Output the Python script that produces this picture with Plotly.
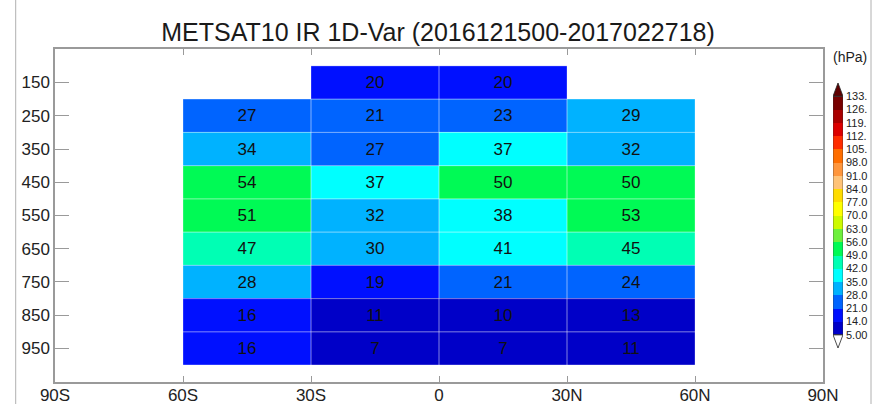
import plotly.graph_objects as go

# ---------------- data ----------------
lat_centers = [-45, -15, 15, 45]
lat_edges = [-60, -30, 0, 30, 60]
pressure_levels = [150, 250, 350, 450, 550, 650, 750, 850, 950]
pressure_edges = [100, 200, 300, 400, 500, 600, 700, 800, 900, 1000]
values = [
    [None, 20, 20, None],
    [27, 21, 23, 29],
    [34, 27, 37, 32],
    [54, 37, 50, 50],
    [51, 32, 38, 53],
    [47, 30, 41, 45],
    [28, 19, 21, 24],
    [16, 11, 10, 13],
    [16, 7, 7, 11],
]
x_tickvals = [-90, -60, -30, 0, 30, 60, 90]
x_ticktext = ["90S", "60S", "30S", "0", "30N", "60N", "90N"]
y_tickvals = [50, 150, 250, 350, 450, 550, 650, 750, 850, 950, 1050]
y_ticktext = ["", "150", "250", "350", "450", "550", "650", "750", "850", "950", ""]

levels = [5, 14, 21, 28, 35, 42, 49, 56, 63, 70, 77, 84, 91, 98, 105, 112, 119, 126, 133]
level_labels = ["5.00", "14.0", "21.0", "28.0", "35.0", "42.0", "49.0", "56.0", "63.0",
                "70.0", "77.0", "84.0", "91.0", "98.0", "105.", "112.", "119.", "126.", "133."]
bin_colors = [
    "rgb(0,0,200)", "rgb(0,16,255)", "rgb(0,100,255)", "rgb(0,178,255)",
    "rgb(0,255,255)", "rgb(0,255,180)", "rgb(0,250,85)", "rgb(110,240,60)",
    "rgb(205,250,0)", "rgb(255,255,0)", "rgb(255,220,0)", "rgb(255,195,120)",
    "rgb(255,150,60)", "rgb(255,110,0)", "rgb(255,45,0)", "rgb(220,0,0)",
    "rgb(170,0,0)", "rgb(120,0,0)",
]
over_color = "rgb(95,0,0)"
under_color = "white"

title_text = "METSAT10 IR 1D-Var (2016121500-2017022718)"
unit_text = "(hPa)"

FONT = "Liberation Sans, Arial, Helvetica, sans-serif"
W, H = 876, 404

# discrete colorscale
zmin, zmax = levels[0], levels[-1]
colorscale = []
for i, c in enumerate(bin_colors):
    a = (levels[i] - zmin) / (zmax - zmin)
    b = (levels[i + 1] - zmin) / (zmax - zmin)
    colorscale.append([a, c])
    colorscale.append([b, c])

text = [["" if v is None else str(v) for v in row] for row in values]

fig = go.Figure()

fig.add_trace(go.Heatmap(
    x=lat_centers, y=pressure_levels, z=values,
    colorscale=colorscale, zmin=zmin, zmax=zmax, showscale=False,
    text=text, texttemplate="%{text}",
    textfont=dict(family=FONT, size=17, color="#111"),
    hoverongaps=False,
))

# faint cell borders
bx, by = [], []
for j, row in enumerate(values):
    for i, v in enumerate(row):
        if v is None:
            continue
        x0, x1 = lat_edges[i], lat_edges[i + 1]
        y0, y1 = pressure_edges[j], pressure_edges[j + 1]
        bx += [x0, x1, x1, x0, x0, None]
        by += [y0, y0, y1, y1, y0, None]
fig.add_trace(go.Scatter(x=bx, y=by, mode="lines", line=dict(color="rgba(255,255,255,0.28)", width=1),
                         hoverinfo="skip", showlegend=False))

# colorbar as its own heatmap
mids = [(levels[i] + levels[i + 1]) / 2 for i in range(len(bin_colors))]
fig.add_trace(go.Heatmap(
    x=[0.5], y=[i + 0.5 for i in range(len(mids))], z=[[m] for m in mids],
    colorscale=colorscale, zmin=zmin, zmax=zmax, showscale=False,
    xaxis="x2", yaxis="y2", hoverinfo="skip",
))
nb = len(bin_colors)
fig.add_trace(go.Scatter(x=[0, 1, 0.5, 0], y=[nb, nb, nb + 1, nb], mode="lines", fill="toself",
                         fillcolor=over_color, line=dict(color="#222", width=0.8),
                         xaxis="x2", yaxis="y2", hoverinfo="skip", showlegend=False))
fig.add_trace(go.Scatter(x=[0, 1, 0.5, 0], y=[0, 0, -1, 0], mode="lines", fill="toself",
                         fillcolor=under_color, line=dict(color="#222", width=0.8),
                         xaxis="x2", yaxis="y2", hoverinfo="skip", showlegend=False))
fig.add_trace(go.Scatter(x=[0, 1, 1, 0, 0], y=[0, 0, nb, nb, 0], mode="lines",
                         line=dict(color="#333", width=0.6),
                         xaxis="x2", yaxis="y2", hoverinfo="skip", showlegend=False))

axis_gray = "#9a9a9a"
fig.update_layout(
    width=W, height=H, margin=dict(l=0, r=0, t=0, b=0, pad=0, autoexpand=False),
    paper_bgcolor="white", plot_bgcolor="white", showlegend=False,
    font=dict(family=FONT, color="#222"),
    title=dict(text=title_text, x=0.5, xanchor="center", y=1 - 32 / H, yanchor="middle",
               automargin=False, font=dict(family=FONT, size=25, color="#1a1a1a")),
    xaxis=dict(domain=[55 / W, 823 / W], range=[-90, 90], tickvals=x_tickvals, ticktext=x_ticktext,
               ticks="inside", ticklen=6, tickcolor=axis_gray, tickwidth=1,
               showline=True, linecolor=axis_gray, linewidth=1.5, mirror="ticks",
               showgrid=False, zeroline=False, tickfont=dict(size=17, color="#222"),
               ticklabelstandoff=-3, automargin=False, fixedrange=True),
    yaxis=dict(domain=[1 - 381.7 / H, 1 - 49.3 / H], range=[1050, 50], tickvals=y_tickvals,
               ticktext=y_ticktext, ticks="inside", ticklen=14, tickcolor=axis_gray, tickwidth=1,
               showline=True, linecolor=axis_gray, linewidth=1.5, mirror="ticks",
               showgrid=False, zeroline=False, tickfont=dict(size=17, color="#222"),
               ticklabelstandoff=0, automargin=False, fixedrange=True),
    xaxis2=dict(domain=[833 / W, 843 / W], range=[0, 1], visible=False, fixedrange=True,
                anchor="y2", automargin=False),
    yaxis2=dict(domain=[1 - 348 / H, 1 - 83 / H], range=[-1, nb + 1], anchor="x2", side="right",
                tickvals=list(range(len(levels))), ticktext=level_labels, ticks="",
                showline=False, showgrid=False, zeroline=False,
                tickfont=dict(size=11, color="#222"), ticklabelstandoff=2,
                automargin=False, fixedrange=True),
    annotations=[dict(text=unit_text, x=850 / W, y=1 - 57 / H, xref="paper", yref="paper",
                      xanchor="center", yanchor="middle", showarrow=False,
                      font=dict(family=FONT, size=14, color="#222"))],
    shapes=[
        dict(type="line", xref="paper", yref="paper", x0=15.7 / W, x1=15.7 / W, y0=0, y1=1,
             line=dict(color="#b0b0b0", width=1)),
        dict(type="line", xref="paper", yref="paper", x0=871 / W, x1=871 / W, y0=0, y1=1,
             line=dict(color="#b0b0b0", width=1)),
    ],
)

fig.write_html("out.html")
